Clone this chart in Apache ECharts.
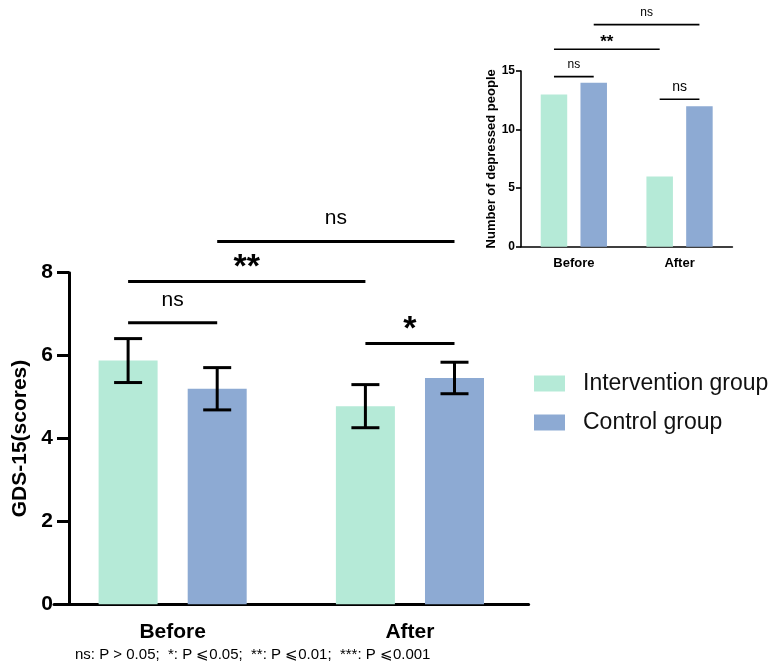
<!DOCTYPE html>
<html><head><meta charset="utf-8">
<script src="https://cdn.jsdelivr.net/npm/echarts@6/dist/echarts.min.js"></script>
<style>html,body{margin:0;padding:0;background:#fff}#c{width:773px;height:668px}</style>
</head><body><div id="c"></div>
<script>
// ---------- data ----------
const categories = ['Before', 'After'];
const seriesNames = ['Intervention group', 'Control group'];
const interventionMean = [5.88, 4.78];
const interventionErr = [0.53, 0.52];
const controlMean = [5.20, 5.46];
const controlErr = [0.51, 0.38];
const yTicks = [0, 2, 4, 6, 8];
const insetIntervention = [13, 6];
const insetControl = [14, 12];
const insetTicks = [0, 5, 10, 15];
// significance brackets: [categoryA, groupA, categoryB, groupB, level, label]
const mainBrackets = [
  [0, 0, 0, 1, 6.79, 'ns'],
  [1, 0, 1, 1, 6.29, '*'],
  [0, 0, 1, 0, 7.79, '**'],
  [0, 1, 1, 1, 8.75, 'ns']
];
const insetBrackets = [
  [0, 0, 0, 1, 14.52, 'ns'],
  [1, 0, 1, 1, 12.59, 'ns'],
  [0, 0, 1, 0, 16.86, '**'],
  [0, 1, 1, 1, 18.96, 'ns']
];
const footnote = 'ns: P > 0.05;  *: P \u2A7D0.05;  **: P \u2A7D0.01;  ***: P \u2A7D0.001';

// ---------- style ----------
const FONT = '"Liberation Sans", Arial, Helvetica, sans-serif';
const GREEN = '#B5EAD7', BLUE = '#8DAAD3';
const MAIN_BW = 59, MAIN_GAP = 0.51;
const INSET_BW = 26.5, INSET_GAP = 0.5;

function groupOffset(g, bw, gap) { return (g === 0 ? -1 : 1) * bw * (1 + gap) / 2; }

function errRender(g, bw, gap, capW, lw) {
  return function (params, api) {
    const lo = api.coord([api.value(0), api.value(1)]);
    const hi = api.coord([api.value(0), api.value(2)]);
    const x = lo[0] + groupOffset(g, bw, gap);
    const st = { stroke: '#000', lineWidth: lw };
    return { type: 'group', children: [
      { type: 'line', shape: { x1: x, y1: lo[1], x2: x, y2: hi[1] }, style: st },
      { type: 'line', shape: { x1: x - capW / 2, y1: hi[1], x2: x + capW / 2, y2: hi[1] }, style: st },
      { type: 'line', shape: { x1: x - capW / 2, y1: lo[1], x2: x + capW / 2, y2: lo[1] }, style: st }
    ]};
  };
}

function bracketRender(list, bw, gap, lw, textStyleFn) {
  return function (params, api) {
    const b = list[params.dataIndex];
    const pa = api.coord([b[0], b[4]]);
    const pb = api.coord([b[2], b[4]]);
    const x1 = pa[0] + groupOffset(b[1], bw, gap);
    const x2 = pb[0] + groupOffset(b[3], bw, gap);
    const ts = textStyleFn(b[5], params.dataIndex);
    return { type: 'group', children: [
      { type: 'line', shape: { x1: x1, y1: pa[1], x2: x2, y2: pa[1] }, style: { stroke: '#000', lineWidth: lw } },
      { type: 'text', x: (x1 + x2) / 2, y: pa[1] - ts.dy,
        style: { text: b[5], font: ts.font, fill: '#000', align: 'center', verticalAlign: 'middle', textAlign: 'center', textVerticalAlign: 'middle' } }
    ]};
  };
}

const chart = echarts.init(document.getElementById('c'), null, { renderer: 'canvas' });
const option = {
  animation: false,
  backgroundColor: '#fff',
  textStyle: { fontFamily: FONT },
  grid: [
    { left: 54, top: 272.7, width: 474.6, height: 331.6 },
    { left: 521, top: 71, width: 211.4, height: 175.7 }
  ],
  legend: {
    data: seriesNames, orient: 'vertical', left: 534, top: 372, padding: 0,
    itemWidth: 31, itemHeight: 16, itemGap: 16, icon: 'rect',
    textStyle: { fontSize: 23, color: '#111', fontFamily: FONT, padding: [0, 0, 0, 13] }
  },
  xAxis: [
    { type: 'category', gridIndex: 0, data: categories,
      axisLine: { lineStyle: { color: '#000', width: 3 } },
      axisTick: { alignWithLabel: true, length: 10, lineStyle: { color: '#000', width: 3 } },
      axisLabel: { color: '#000', fontSize: 21, fontWeight: 'bold', fontFamily: FONT, margin: 17 } },
    { type: 'category', gridIndex: 1, data: categories,
      axisLine: { lineStyle: { color: '#000', width: 1.6 } },
      axisTick: { alignWithLabel: true, length: 5, lineStyle: { color: '#000', width: 1.6 } },
      axisLabel: { color: '#000', fontSize: 13, fontWeight: 'bold', fontFamily: FONT, margin: 10 } }
  ],
  yAxis: [
    { type: 'value', gridIndex: 0, min: yTicks[0], max: yTicks[yTicks.length - 1], interval: yTicks[1] - yTicks[0],
      offset: -15,
      axisLine: { show: true, lineStyle: { color: '#000', width: 3 } },
      axisTick: { show: true, length: 12, lineStyle: { color: '#000', width: 3 } },
      axisLabel: { color: '#000', fontSize: 21, fontWeight: 'bold', fontFamily: FONT, margin: 16 },
      splitLine: { show: false },
      name: 'GDS-15(scores)', nameLocation: 'middle', nameGap: 34,
      nameTextStyle: { color: '#000', fontSize: 21, fontWeight: 'bold', fontFamily: FONT } },
    { type: 'value', gridIndex: 1, min: insetTicks[0], max: insetTicks[insetTicks.length - 1], interval: insetTicks[1] - insetTicks[0],
      axisLine: { show: true, lineStyle: { color: '#000', width: 1.6 } },
      axisTick: { show: true, length: 5, lineStyle: { color: '#000', width: 1.6 } },
      axisLabel: { color: '#000', fontSize: 12, fontWeight: 'bold', fontFamily: FONT, margin: 6 },
      splitLine: { show: false },
      name: 'Number of depressed people', nameLocation: 'middle', nameGap: 18,
      nameTextStyle: { color: '#000', fontSize: 13, fontWeight: 'bold', fontFamily: FONT } }
  ],
  series: [
    { name: seriesNames[0], type: 'bar', xAxisIndex: 0, yAxisIndex: 0, data: interventionMean,
      barWidth: MAIN_BW, barGap: (MAIN_GAP * 100) + '%', itemStyle: { color: GREEN } },
    { name: seriesNames[1], type: 'bar', xAxisIndex: 0, yAxisIndex: 0, data: controlMean,
      barWidth: MAIN_BW, barGap: (MAIN_GAP * 100) + '%', itemStyle: { color: BLUE } },
    { type: 'custom', xAxisIndex: 0, yAxisIndex: 0, z: 5, clip: false,
      data: categories.map((c, i) => [i, interventionMean[i] - interventionErr[i], interventionMean[i] + interventionErr[i]]),
      encode: { x: 0, y: [1, 2] }, renderItem: errRender(0, MAIN_BW, MAIN_GAP, 28, 3) },
    { type: 'custom', xAxisIndex: 0, yAxisIndex: 0, z: 5, clip: false,
      data: categories.map((c, i) => [i, controlMean[i] - controlErr[i], controlMean[i] + controlErr[i]]),
      encode: { x: 0, y: [1, 2] }, renderItem: errRender(1, MAIN_BW, MAIN_GAP, 28, 3) },
    { type: 'custom', xAxisIndex: 0, yAxisIndex: 0, z: 5, clip: false,
      data: mainBrackets.map(b => [b[0], b[4]]), encode: { x: 0, y: 1 },
      renderItem: bracketRender(mainBrackets, MAIN_BW, MAIN_GAP, 3, function (t) {
        if (t.indexOf('*') >= 0) return { font: 'bold 34px ' + FONT, dy: 14 };
        return { font: '21px ' + FONT, dy: 23 };
      }) },
    { name: seriesNames[0], type: 'bar', xAxisIndex: 1, yAxisIndex: 1, data: insetIntervention,
      barWidth: INSET_BW, barGap: (INSET_GAP * 100) + '%', itemStyle: { color: GREEN } },
    { name: seriesNames[1], type: 'bar', xAxisIndex: 1, yAxisIndex: 1, data: insetControl,
      barWidth: INSET_BW, barGap: (INSET_GAP * 100) + '%', itemStyle: { color: BLUE } },
    { type: 'custom', xAxisIndex: 1, yAxisIndex: 1, z: 5, clip: false,
      data: insetBrackets.map(b => [b[0], b[4]]), encode: { x: 0, y: 1 },
      renderItem: bracketRender(insetBrackets, INSET_BW, INSET_GAP, 1.6, function (t, i) {
        if (t.indexOf('*') >= 0) return { font: 'bold 17px ' + FONT, dy: 7 };
        if (i === 1) return { font: '14px ' + FONT, dy: 12 };
        return { font: '12px ' + FONT, dy: 12 };
      }) }
  ],
  graphic: [
    { type: 'text', left: 75, top: 647, style: { text: footnote, font: '15px ' + FONT, fill: '#000' } }
  ]
};
chart.setOption(option);
</script></body></html>
